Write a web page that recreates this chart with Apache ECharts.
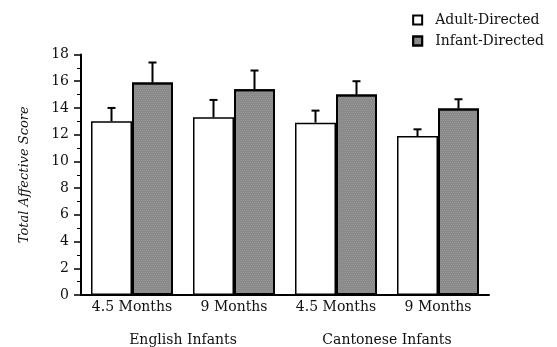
<!DOCTYPE html>
<html><head><meta charset="utf-8">
<script src="https://cdn.jsdelivr.net/npm/echarts@6/dist/echarts.min.js"></script>
<style>html,body{margin:0;padding:0;background:#fff}#c{width:557px;height:347px}</style>
</head><body><div id="c"></div>
<script>
var categories = ['4.5 Months', '9 Months', '4.5 Months', '9 Months'];
var groups = ['English Infants', 'Cantonese Infants'];
var adultValues = [13.0, 13.3, 12.9, 11.9];
var adultErrors = [1.0, 1.3, 0.9, 0.5];
var infantValues = [15.9, 15.4, 15.0, 13.95];
var infantErrors = [1.5, 1.4, 1.0, 0.7];
var yTicks = [0, 2, 4, 6, 8, 10, 12, 14, 16, 18];

var FONT = 'DejaVu Serif';
var chart = echarts.init(document.getElementById('c'));

function errSeries(vals, errs, seriesIndex) {
  return {
    type: 'custom',
    xAxisIndex: 0, yAxisIndex: 0,
    z: 5,
    data: vals.map(function (v, i) { return [i, v, v + errs[i]]; }),
    renderItem: function (params, api) {
      var idx = api.value(0);
      var barW = 41;
      var cx = api.coord([idx, 0])[0] + (seriesIndex === 0 ? -barW / 2 : barW / 2);
      var y0 = api.coord([idx, api.value(1)])[1];
      var y1 = api.coord([idx, api.value(2)])[1];
      return {
        type: 'group',
        children: [
          { type: 'line', shape: { x1: cx, y1: y0, x2: cx, y2: y1 }, style: { stroke: '#000', lineWidth: 2 } },
          { type: 'line', shape: { x1: cx - 4, y1: y1, x2: cx + 4, y2: y1 }, style: { stroke: '#000', lineWidth: 2 } }
        ]
      };
    }
  };
}

chart.setOption({
  animation: false,
  backgroundColor: '#fff',
  grid: { left: 81, right: 68, top: 54.5, bottom: 50.5 },
  legend: {
    right: 8, top: 8, orient: 'vertical', itemGap: 7,
    itemWidth: 9, itemHeight: 9, icon: 'rect',
    textStyle: { fontFamily: FONT, fontSize: 14, color: '#111', padding: [0, 0, 0, 8] },
    data: ['Adult-Directed', 'Infant-Directed']
  },
  xAxis: [{
    type: 'category', data: categories,
    axisLine: { lineStyle: { color: '#000', width: 2 } },
    axisTick: { show: false },
    axisLabel: { fontFamily: FONT, fontSize: 14, color: '#111', margin: 5, interval: 0 }
  }, {
    type: 'category', data: groups, position: 'bottom', offset: 30,
    gridIndex: 0,
    axisLine: { show: false }, axisTick: { show: false },
    axisLabel: { fontFamily: FONT, fontSize: 14, color: '#111', interval: 0 }
  }],
  yAxis: {
    type: 'value', min: 0, max: 18, interval: 2,
    name: 'Total Affective Score', nameLocation: 'middle', nameGap: 50,
    nameTextStyle: { fontFamily: FONT, fontSize: 13, fontStyle: 'italic', color: '#111' },
    axisLine: { show: true, lineStyle: { color: '#000', width: 2 } },
    axisTick: { show: true, length: 7, lineStyle: { color: '#000', width: 1.5 } },
    minorTick: { show: true, splitNumber: 2, length: 4, lineStyle: { color: '#000', width: 1 } },
    splitLine: { show: false },
    axisLabel: {
      fontFamily: FONT, fontSize: 14, color: '#111', margin: 12,
      formatter: function (v) { return yTicks.indexOf(v) >= 0 ? String(v) : ''; }
    }
  },
  series: [{
    name: 'Adult-Directed', type: 'bar', data: adultValues,
    barWidth: 41, barGap: '0%',
    itemStyle: { color: '#fff', borderColor: '#000', borderWidth: 1.5 }
  }, {
    name: 'Infant-Directed', type: 'bar', data: infantValues,
    barWidth: 41,
    itemStyle: {
      color: '#8a8a8a', borderColor: '#000', borderWidth: 2,
      decal: { symbol: 'rect', symbolSize: 0.6, dashArrayX: [[1, 1], [0, 1, 1, 0]], dashArrayY: [1, 1], color: 'rgba(255,255,255,0.35)', rotation: 0 }
    }
  }, errSeries(adultValues, adultErrors, 0), errSeries(infantValues, infantErrors, 1)]
});
</script></body></html>
